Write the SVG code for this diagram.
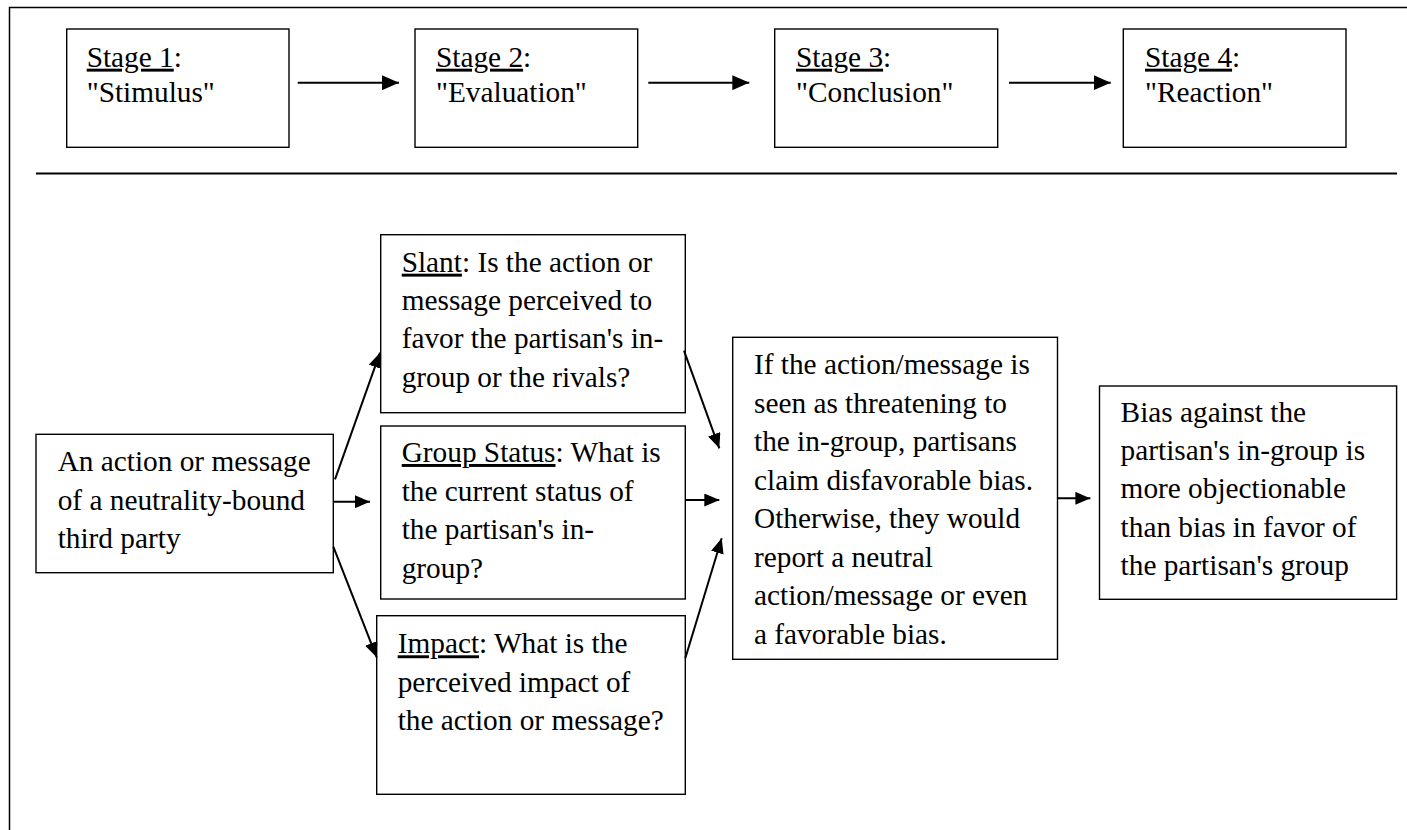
<svg xmlns="http://www.w3.org/2000/svg" width="1407" height="830" viewBox="0 0 1407 830">
<style>
.box{fill:#fff;stroke:#000;stroke-width:1.4}
.u{text-decoration:underline}
.c{fill:none;stroke:#000;stroke-width:2}
.frame{fill:none;stroke:#000;stroke-width:1.5}
</style>
<defs>
<marker id="ah" viewBox="0 0 17 15" refX="17" refY="7.5" markerWidth="17" markerHeight="15" markerUnits="userSpaceOnUse" orient="auto">
<path d="M0,0 L17,7.5 L0,15 z" fill="#000"/>
</marker>
<marker id="ahs" viewBox="0 0 15 13" refX="15" refY="6.5" markerWidth="15" markerHeight="13" markerUnits="userSpaceOnUse" orient="auto">
<path d="M0,0 L15,6.5 L0,13 z" fill="#000"/>
</marker>
</defs>
<rect width="1407" height="830" fill="#fff"/>
<path class="frame" d="M9.5,830 V7.5 H1407"/>
<line x1="36" y1="173.5" x2="1397" y2="173.5" stroke="#000" stroke-width="1.8"/>

<g font-family="Liberation Serif, serif" font-size="29.3" fill="#000">
<g id="stage1">
<rect class="box" x="66.7" y="29" width="222.3" height="118.3"/>
<text x="86.7" y="66.7"><tspan class="u">Stage 1</tspan>:<tspan x="86.7" y="101.7">"Stimulus"</tspan></text>
</g>
<g id="stage2">
<rect class="box" x="415" y="29" width="222.7" height="118.3"/>
<text x="436" y="66.7"><tspan class="u">Stage 2</tspan>:<tspan x="436" y="101.7">"Evaluation"</tspan></text>
</g>
<g id="stage3">
<rect class="box" x="774.7" y="29" width="223" height="118.3"/>
<text x="796" y="66.7"><tspan class="u">Stage 3</tspan>:<tspan x="796" y="101.7">"Conclusion"</tspan></text>
</g>
<g id="stage4">
<rect class="box" x="1123.3" y="29" width="222.7" height="118.3"/>
<text x="1145" y="66.7"><tspan class="u">Stage 4</tspan>:<tspan x="1145" y="101.7">"Reaction"</tspan></text>
</g>

<g id="source">
<rect class="box" x="36" y="434.3" width="297.3" height="138.4"/>
<text x="57.7" y="471"><tspan>An action or message</tspan><tspan x="57.7" y="509.7">of a neutrality-bound</tspan><tspan x="57.7" y="548.3">third party</tspan></text>
</g>
<g id="slant">
<rect class="box" x="380.7" y="234.7" width="304.6" height="178"/>
<text x="401.7" y="271.7"><tspan class="u">Slant</tspan>: Is the action or<tspan x="401.7" y="310">message perceived to</tspan><tspan x="401.7" y="348.3">favor the partisan's in-</tspan><tspan x="401.7" y="386.7">group or the rivals?</tspan></text>
</g>
<g id="groupstatus">
<rect class="box" x="380.7" y="426" width="304.6" height="173"/>
<text x="401.7" y="462"><tspan class="u">Group Status</tspan>: What is<tspan x="401.7" y="500.5">the current status of</tspan><tspan x="401.7" y="539">the partisan's in-</tspan><tspan x="401.7" y="577.5">group?</tspan></text>
</g>
<g id="impact">
<rect class="box" x="376.7" y="615.7" width="308.6" height="178.6"/>
<text x="397.7" y="653.3"><tspan class="u">Impact</tspan>: What is the<tspan x="397.7" y="691.8">perceived impact of</tspan><tspan x="397.7" y="730.3">the action or message?</tspan></text>
</g>
<g id="conclusion">
<rect class="box" x="732.7" y="337.3" width="324.8" height="322"/>
<text x="754" y="374"><tspan>If the action/message is</tspan><tspan x="754" y="412.5">seen as threatening to</tspan><tspan x="754" y="451">the in-group, partisans</tspan><tspan x="754" y="489.5">claim disfavorable bias.</tspan><tspan x="754" y="528">Otherwise, they would</tspan><tspan x="754" y="566.5">report a neutral</tspan><tspan x="754" y="605">action/message or even</tspan><tspan x="754" y="643.5">a favorable bias.</tspan></text>
</g>
<g id="reaction">
<rect class="box" x="1099.5" y="386" width="297.1" height="213.3"/>
<text x="1120.6" y="421.7"><tspan>Bias against the</tspan><tspan x="1120.6" y="460">partisan's in-group is</tspan><tspan x="1120.6" y="498.3">more objectionable</tspan><tspan x="1120.6" y="536.6">than bias in favor of</tspan><tspan x="1120.6" y="575">the partisan's group</tspan></text>
</g>
</g>

<g id="connectors">
<line class="c" x1="297.7" y1="82.7" x2="399" y2="82.7" marker-end="url(#ah)"/>
<line class="c" x1="648.3" y1="82.7" x2="749.3" y2="82.7" marker-end="url(#ah)"/>
<line class="c" x1="1009" y1="82.7" x2="1110.7" y2="82.7" marker-end="url(#ah)"/>
<line class="c" x1="335" y1="479.3" x2="380" y2="352.7" marker-end="url(#ahs)"/>
<line class="c" x1="333.3" y1="501.7" x2="370" y2="501.7" marker-end="url(#ahs)"/>
<line class="c" x1="333.3" y1="546.7" x2="376.7" y2="657.3" marker-end="url(#ahs)"/>
<line class="c" x1="684" y1="350.7" x2="719.3" y2="448.3" marker-end="url(#ahs)"/>
<line class="c" x1="685.3" y1="500" x2="719.3" y2="500" marker-end="url(#ahs)"/>
<line class="c" x1="685.3" y1="658.3" x2="721.7" y2="538.3" marker-end="url(#ahs)"/>
<line class="c" x1="1057.5" y1="498.3" x2="1090.4" y2="498.3" marker-end="url(#ahs)"/>
</g>
</svg>
